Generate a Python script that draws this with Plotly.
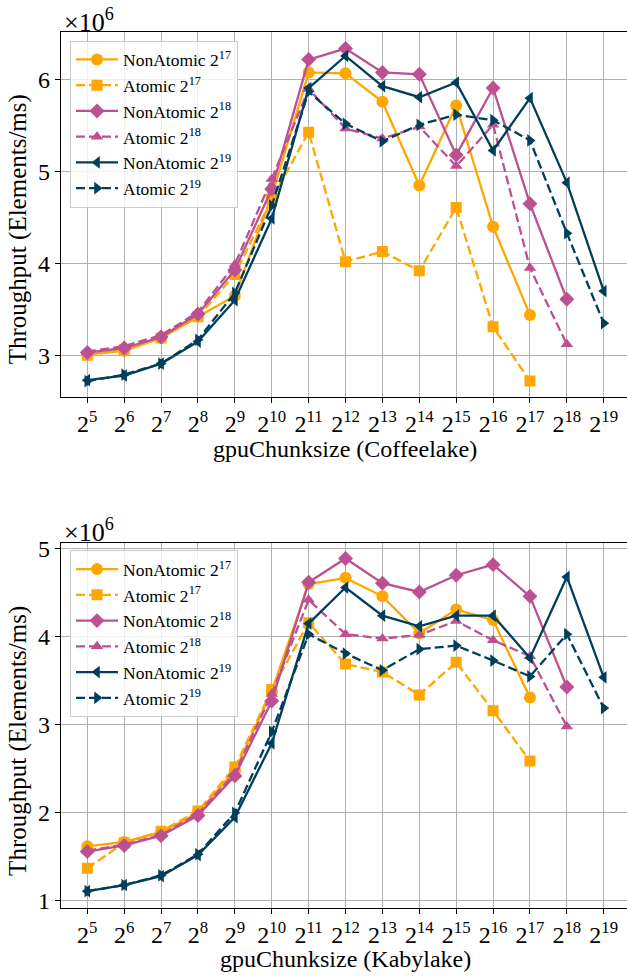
import plotly.graph_objects as go

# ---------------- data ----------------
exponents = [5, 6, 7, 8, 9, 10, 11, 12, 13, 14, 15, 16, 17, 18, 19]
tick_text = ["2<sup>%d</sup>" % e for e in exponents]

# Coffeelake (top), values x1e6 elements/ms
cl_nonatomic_17 = [3.01, 3.05, 3.19, 3.42, 3.65, 4.73, 6.08, 6.07, 5.76, 4.85, 5.72, 4.40, 3.44, None, None]
cl_atomic_17 = [3.00, 3.06, 3.19, 3.42, 3.88, 4.70, 5.43, 4.02, 4.13, 3.92, 4.61, 3.31, 2.72, None, None]
cl_nonatomic_18 = [3.03, 3.08, 3.20, 3.45, 3.93, 4.81, 6.22, 6.34, 6.08, 6.06, 5.18, 5.91, 4.65, 3.61, None]
cl_atomic_18 = [3.04, 3.10, 3.22, 3.47, 3.99, 4.92, 5.90, 5.47, 5.36, 5.49, 5.06, 5.51, 3.95, 3.12, None]
cl_nonatomic_19 = [2.73, 2.78, 2.91, 3.15, 3.60, 4.49, 5.91, 6.26, 5.93, 5.81, 5.97, 5.23, 5.80, 4.88, 3.70]
cl_atomic_19 = [2.72, 2.79, 2.91, 3.17, 3.68, 4.63, 5.87, 5.52, 5.33, 5.51, 5.62, 5.56, 5.34, 4.33, 3.35]

# Kabylake (bottom)
kl_nonatomic_17 = [1.62, 1.67, 1.78, 2.00, 2.48, 3.38, 4.60, 4.67, 4.46, 4.04, 4.31, 4.19, 3.31, None, None]
kl_atomic_17 = [1.37, 1.66, 1.79, 2.02, 2.52, 3.40, 4.16, 3.69, 3.60, 3.34, 3.71, 3.16, 2.59, None, None]
kl_nonatomic_18 = [1.56, 1.63, 1.74, 1.97, 2.42, 3.27, 4.62, 4.89, 4.61, 4.51, 4.70, 4.82, 4.46, 3.43, None]
kl_atomic_18 = [1.57, 1.64, 1.75, 1.99, 2.45, 3.35, 4.42, 4.03, 3.98, 4.02, 4.18, 3.96, 3.78, 2.98, None]
kl_nonatomic_19 = [1.11, 1.18, 1.28, 1.52, 1.95, 2.79, 4.15, 4.56, 4.24, 4.12, 4.24, 4.24, 3.76, 4.68, 3.54]
kl_atomic_19 = [1.11, 1.18, 1.29, 1.53, 2.00, 2.92, 4.03, 3.81, 3.62, 3.86, 3.90, 3.73, 3.55, 4.03, 3.19]

series_names = ["NonAtomic 2<sup>17</sup>", "Atomic 2<sup>17</sup>",
                "NonAtomic 2<sup>18</sup>", "Atomic 2<sup>18</sup>",
                "NonAtomic 2<sup>19</sup>", "Atomic 2<sup>19</sup>"]

# ---------------- styles ----------------
ORANGE, PINK, NAVY = "#ffa600", "#bc5090", "#003f5c"
styles = [
    dict(color=ORANGE, symbol="circle", size=12, dash="solid"),
    dict(color=ORANGE, symbol="square", size=11, dash="9px,4px"),
    dict(color=PINK, symbol="diamond", size=11.5, dash="solid"),
    dict(color=PINK, symbol="triangle-up", size=11, dash="9px,4px"),
    dict(color=NAVY, symbol="triangle-left", size=11, dash="solid"),
    dict(color=NAVY, symbol="triangle-right", size=11, dash="9px,4px"),
]
FONT = "Liberation Serif, Times New Roman, serif"
W, H = 627, 979

fig = go.Figure()

panels = [
    dict(data=[cl_nonatomic_17, cl_atomic_17, cl_nonatomic_18, cl_atomic_18, cl_nonatomic_19, cl_atomic_19],
         xa="x", ya="y", legend="legend"),
    dict(data=[kl_nonatomic_17, kl_atomic_17, kl_nonatomic_18, kl_atomic_18, kl_nonatomic_19, kl_atomic_19],
         xa="x2", ya="y2", legend="legend2"),
]
for p in panels:
    for name, vals, st in zip(series_names, p["data"], styles):
        fig.add_trace(go.Scatter(
            x=exponents, y=vals, name=name, mode="lines+markers",
            xaxis=p["xa"], yaxis=p["ya"], legend=p["legend"],
            line=dict(color=st["color"], width=2.3, dash=st["dash"]),
            marker=dict(symbol=st["symbol"], size=st["size"], color=st["color"], line=dict(width=0)),
            connectgaps=False,
        ))

x_left = 61 / W
xaxis_common = dict(
    domain=[x_left, 1.0], range=[4.287, 19.63], tickmode="array",
    tickvals=exponents, ticktext=tick_text,
    showgrid=True, gridcolor="#b0b0b0", gridwidth=1,
    showline=True, linecolor="black", linewidth=1.2, mirror=True,
    ticks="outside", ticklen=5, tickcolor="black", tickwidth=1,
    tickfont=dict(family=FONT, size=24, color="black"), zeroline=False,
)
yaxis_common = dict(
    showgrid=True, gridcolor="#b0b0b0", gridwidth=1,
    showline=True, linecolor="black", linewidth=1.2, mirror=False,
    ticks="outside", ticklen=5, tickcolor="black", tickwidth=1,
    tickfont=dict(family=FONT, size=24, color="black"), zeroline=False,
    tickmode="array",
)

def py(px):
    return 1 - px / H

legend_common = dict(xanchor="left", yanchor="top", itemwidth=42,
                     bgcolor="rgba(255,255,255,0.8)", bordercolor="#cccccc", borderwidth=1,
                     font=dict(family=FONT, size=17.5, color="black"), tracegroupgap=0)

fig.update_layout(
    width=W, height=H, margin=dict(l=0, r=0, t=0, b=0),
    paper_bgcolor="white", plot_bgcolor="white",
    font=dict(family=FONT, color="black"),
    xaxis=dict(xaxis_common, anchor="y"),
    yaxis=dict(yaxis_common, domain=[py(396), py(26.7)], range=[2.545, 6.516],
               tickvals=[3, 4, 5, 6], ticktext=["3", "4", "5", "6"], anchor="x"),
    xaxis2=dict(xaxis_common, anchor="y2"),
    yaxis2=dict(yaxis_common, domain=[py(913), py(543.3)], range=[0.921, 5.07],
                tickvals=[1, 2, 3, 4, 5], ticktext=["1", "2", "3", "4", "5"], anchor="x2"),
    legend=dict(legend_common, x=70 / W, y=py(35)),
    legend2=dict(legend_common, x=70 / W, y=py(551)),
    showlegend=True,
)

ann_font = dict(family=FONT, size=24, color="black")
annotations = [
    dict(text="×10<sup>6</sup>", x=62 / W, y=py(15), xanchor="left", yanchor="middle", showarrow=False,
         font=dict(family=FONT, size=26, color="black")),
    dict(text="×10<sup>6</sup>", x=62 / W, y=py(531), xanchor="left", yanchor="middle", showarrow=False,
         font=dict(family=FONT, size=26, color="black")),
    dict(text="Throughput (Elements/ms)", x=18 / W, y=py(226), textangle=-90, xanchor="center", yanchor="middle",
         showarrow=False, font=dict(family=FONT, size=25, color="black")),
    dict(text="Throughput (Elements/ms)", x=18 / W, y=py(744), textangle=-90, xanchor="center", yanchor="middle",
         showarrow=False, font=dict(family=FONT, size=25, color="black")),
    dict(text="gpuChunksize (Coffeelake)", x=345 / W, y=py(449), xanchor="center", yanchor="middle",
         showarrow=False, font=ann_font),
    dict(text="gpuChunksize (Kabylake)", x=345 / W, y=py(965), xanchor="center", yanchor="middle",
         showarrow=False, font=ann_font),
]
for a in annotations:
    a.update(xref="paper", yref="paper")
fig.update_layout(annotations=annotations)

fig.write_html("out.html")
